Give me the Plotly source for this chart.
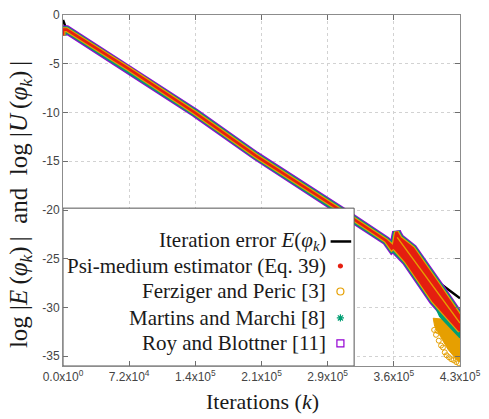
import plotly.graph_objects as go

# ---- data -------------------------------------------------------------
# iteration error E(phi_k), log10
err_x = [0, 3000, 71667, 143333, 209000, 300000, 354000, 403800, 430000]
err_y = [-0.5, -1.3, -5.56, -10.05, -14.45, -20.0, -23.4, -27.2, -29.05]

# estimators share the same trajectory until the round-off region
est_x = [0, 0, 4000, 71667, 143333, 209000, 300000, 350000]
est_y = [-2.1, -1.5, -1.5, -5.56, -10.05, -14.45, -20.0, -23.15]

# envelope of the estimators once round-off sets in
fan_upper_x = [356000, 358500, 360300, 361300, 362500, 365000, 368400, 379000, 407000, 430000]
fan_upper_y = [-23.95, -23.7, -22.7, -22.25, -22.5, -22.9, -23.15, -23.95, -27.75, -30.95]
fan_lower_x = [430000, 401000, 372000, 360000]
fan_lower_y = [-32.4, -29.3, -25.3, -24.0]

# Martins and Marchi: values slipping below the envelope at the end
mm_tail_x = [400000, 430000, 430000, 408000]
mm_tail_y = [-29.2, -32.4, -33.1, -30.9]

# Ferziger and Peric: inner streak and the low scattered cloud
fp_streak_x = [362000, 405000, 430000]
fp_streak_y = [-22.8, -28.3, -31.6]
fp_cloud_x = [401000, 412000, 430000, 430000, 425000, 417000, 409000, 402500]
fp_cloud_y = [-31.1, -31.2, -32.4, -35.6, -35.2, -34.3, -33.0, -31.9]
fp_pts_x = [402000, 404000, 405500, 407000, 409500, 411500, 413500, 415500,
            418000, 420500, 423000, 426000, 428500]
fp_pts_y = [-32.3, -32.8, -32.4, -33.4, -33.9, -34.1, -34.6, -34.9,
            -35.1, -35.3, -35.4, -35.6, -35.7]

x_tickvals = [0, 71667, 143333, 215000, 286667, 358333, 430000]
x_ticktext = ["0.0x10<sup>0</sup>", "7.2x10<sup>4</sup>", "1.4x10<sup>5</sup>",
              "2.1x10<sup>5</sup>", "2.9x10<sup>5</sup>", "3.6x10<sup>5</sup>",
              "4.3x10<sup>5</sup>"]
y_tickvals = [0, -5, -10, -15, -20, -25, -30, -35]
y_ticktext = ["0", "-5", "-10", "-15", "-20", "-25", "-30", "-35"]

legend_names = ["Iteration error <i>E</i>(<i>φ<sub>k</sub></i>)",
                "Psi-medium estimator (Eq. 39)",
                "Ferziger and Peric [3]",
                "Martins and Marchi [8]",
                "Roy and Blottner [11]"]

# ---- styling ----------------------------------------------------------
RED, ORANGE, GREEN, PURPLE = "#E51E10", "#E69F00", "#009E73", "#9400D3"
SERIF = "Liberation Serif, Times New Roman, serif"
SANS = "Liberation Sans, Arial, sans-serif"

# closed outline: along the trajectory, round the envelope, and back
path_x = est_x + fan_upper_x + fan_lower_x + est_x[::-1]
path_y = est_y + fan_upper_y + fan_lower_y + est_y[::-1]

fig = go.Figure()

fig.add_trace(go.Scatter(x=err_x, y=err_y, mode="lines",
                         line=dict(color="black", width=2.5), hoverinfo="skip"))

fig.add_trace(go.Scatter(x=fp_cloud_x + fp_cloud_x[:1], y=fp_cloud_y + fp_cloud_y[:1],
                         mode="lines", fill="toself", fillcolor=ORANGE,
                         line=dict(color=ORANGE, width=1), hoverinfo="skip"))
fig.add_trace(go.Scatter(x=fp_pts_x, y=fp_pts_y, mode="markers",
                         marker=dict(symbol="circle-open", size=5, color=ORANGE,
                                     line=dict(width=1)), hoverinfo="skip"))

for color, width in [(PURPLE, 9), (GREEN, 7)]:
    fig.add_trace(go.Scatter(x=path_x, y=path_y, mode="lines", fill="toself",
                             fillcolor=color,
                             line=dict(color=color, width=width), hoverinfo="skip"))

fig.add_trace(go.Scatter(x=mm_tail_x + mm_tail_x[:1], y=mm_tail_y + mm_tail_y[:1],
                         mode="lines", fill="toself", fillcolor=GREEN,
                         line=dict(color=GREEN, width=1.5), hoverinfo="skip"))

for color, width in [(ORANGE, 5), (RED, 2.6)]:
    fig.add_trace(go.Scatter(x=path_x, y=path_y, mode="lines", fill="toself",
                             fillcolor=color,
                             line=dict(color=color, width=width), hoverinfo="skip"))

fig.add_trace(go.Scatter(x=fp_streak_x, y=fp_streak_y, mode="lines",
                         line=dict(color=ORANGE, width=1.4), hoverinfo="skip"))

# ---- key box on an overlay axis in [0, 1] paper units ------------------
W, H = 489, 419
ML, MR, MT, MB = 63, 21, 8, 53
PW, PH = W - ML - MR, H - MT - MB


def px(xp):
    return (xp - ML) / PW


def py(yp):
    return (H - MB - yp) / PH


box_l, box_r, box_t, box_b = 63, 360, 205, 366
fig.add_trace(go.Scatter(
    x=[px(box_l), px(box_r), px(box_r), px(box_l), px(box_l)],
    y=[py(box_b), py(box_b), py(box_t), py(box_t), py(box_b)],
    mode="lines", fill="toself", fillcolor="white",
    line=dict(color="#555555", width=1), xaxis="x2", yaxis="y2", hoverinfo="skip"))

row_y = [239, 264, 290, 317, 343]
fig.add_trace(go.Scatter(x=[px(336), px(357)], y=[py(row_y[0])] * 2, mode="lines",
                         line=dict(color="black", width=2.5),
                         xaxis="x2", yaxis="y2", hoverinfo="skip"))
key_marks = [("circle", 4, RED), ("circle-open", 7, ORANGE),
             ("asterisk-open", 6, GREEN), ("square-open", 7, PURPLE)]
for (sym, size, color), yy in zip(key_marks, row_y[1:]):
    fig.add_trace(go.Scatter(x=[px(346)], y=[py(yy)], mode="markers",
                             marker=dict(symbol=sym, size=size, color=color,
                                         line=dict(color=color, width=1.2)),
                             xaxis="x2", yaxis="y2", hoverinfo="skip"))

annotations = []
for name, yy in zip(legend_names, row_y):
    annotations.append(dict(x=px(333), y=py(yy), xref="paper", yref="paper",
                            text=name, showarrow=False, xanchor="right",
                            yanchor="middle", font=dict(family=SERIF, size=21,
                                                        color="#1a1a1a")))

TS = "\u2009"
annotations.append(dict(
    x=px(19), y=py(201), xref="paper", yref="paper", textangle=-90,
    text=(f"log |<i>E</i>{TS}(<i>φ<sub>k</sub></i>){TS}|  and  "
          f"log |<i>U</i>{TS}(<i>φ<sub>k</sub></i>){TS}|"),
    showarrow=False, xanchor="center", yanchor="middle",
    font=dict(family=SERIF, size=25, color="#1a1a1a")))
annotations.append(dict(
    x=px(267), y=py(402), xref="paper", yref="paper",
    text="Iterations (<i>k</i>)", showarrow=False, xanchor="center",
    yanchor="middle", font=dict(family=SERIF, size=22, color="#1a1a1a")))

axis_common = dict(showline=True, linecolor="#8c8c8c", linewidth=1, mirror="ticks",
                   ticks="inside", ticklen=5, tickcolor="#6e6e6e",
                   showgrid=True, gridcolor="#d2d2d2", griddash="dot", gridwidth=1,
                   zeroline=False, tickfont=dict(family=SANS, size=12, color="#444444"))

fig.update_layout(
    width=W, height=H, margin=dict(l=ML, r=MR, t=MT, b=MB),
    paper_bgcolor="white", plot_bgcolor="white", showlegend=False,
    xaxis=dict(range=[0, 430000], tickmode="array", tickvals=x_tickvals,
               ticktext=x_ticktext, **axis_common),
    yaxis=dict(range=[-36, 0], tickmode="array", tickvals=y_tickvals,
               ticktext=y_ticktext, **axis_common),
    xaxis2=dict(overlaying="x", range=[0, 1], visible=False),
    yaxis2=dict(overlaying="y", range=[0, 1], visible=False),
    annotations=annotations,
)

fig.write_html("out.html")
